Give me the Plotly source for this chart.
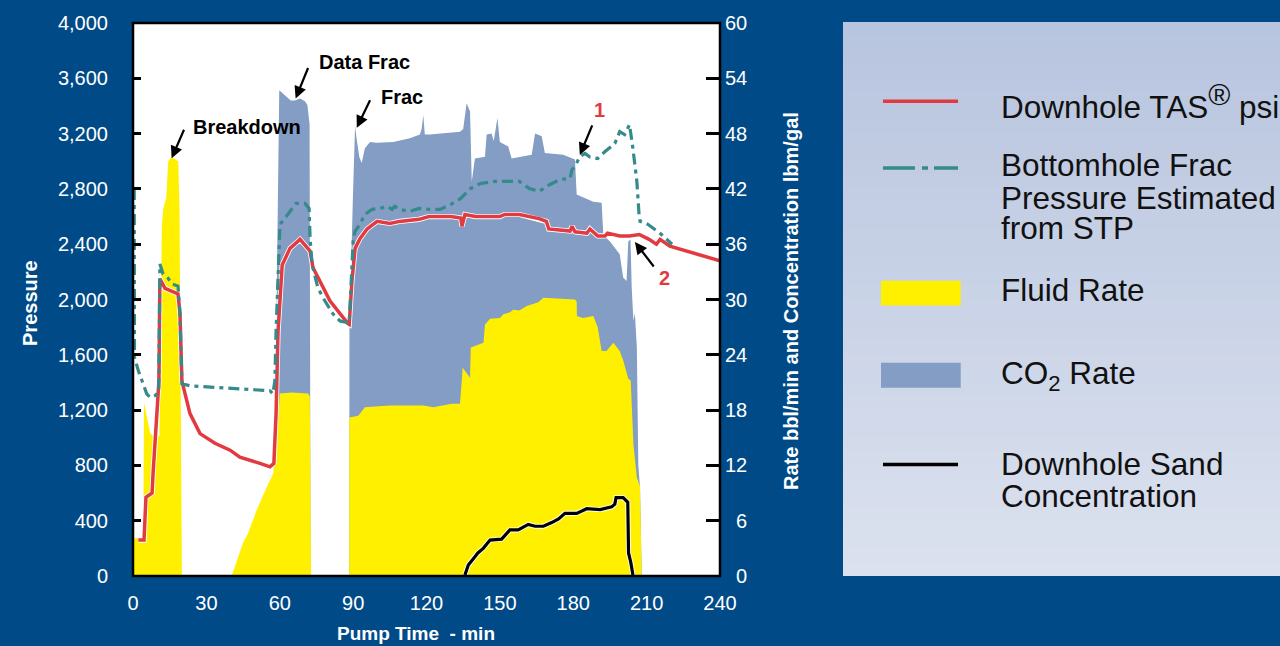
import plotly.graph_objects as go

# ---------------- data ----------------
time_ticks = [0, 30, 60, 90, 120, 150, 180, 210, 240]
pressure_ticks = [0, 400, 800, 1200, 1600, 2000, 2400, 2800, 3200, 3600, 4000]
rate_ticks = [0, 6, 12, 18, 24, 30, 36, 42, 48, 54, 60]

tas_time = [2.2, 4.5, 5.3, 6.1, 7.8, 8.2, 9.0, 10.6, 11.0, 13.1, 18.4, 19.2, 20.0, 23.3, 27.4, 33.5,
            39.7, 43.7, 51.9, 56.0, 57.6, 58.5, 59.3, 61.0, 64.2, 68.3, 72.4, 73.6, 76.5, 80.5, 87.9,
            88.4, 89.5, 90.8, 92.8, 95.7, 99.8, 105, 109, 117, 121, 130, 134, 134.5, 135.7, 140, 150,
            152, 158, 166, 169, 170, 178.7, 179.5, 180.7, 185.6, 186.8, 190, 193, 194, 199, 203, 207,
            211, 214, 215.5, 219.5, 223.6, 229.8, 240]
tas_psi = [260, 260, 570, 580, 600, 740, 940, 1410, 2150, 2080, 2040, 1900, 1410, 1175, 1030, 960,
           910, 860, 815, 790, 815, 1175, 1770, 2250, 2370, 2435, 2350, 2230, 2130, 1990, 1825,
           1820, 2130, 2370, 2440, 2510, 2565, 2550, 2565, 2580, 2600, 2600, 2590, 2530, 2615, 2600, 2600,
           2615, 2615, 2585, 2565, 2510, 2495, 2530, 2490, 2480, 2510, 2460, 2460, 2480, 2460, 2460, 2470,
           2435, 2400, 2435, 2385, 2365, 2335, 2280]

bhfp_time = [0.5, 0.6, 2.2, 4.2, 5.6, 7.0, 9.0, 10.5, 11.0, 12.3, 14.3, 16.0, 18.4, 19.2, 20.0, 23.3,
             56.0, 57.2, 58.0, 58.5, 59.3, 60.1, 62.1, 64.2, 66.6, 70.3, 72.0, 72.4, 73.2, 75.6, 78.5,
             81.8, 84.6, 88.4, 89.2, 90.0, 90.8, 92.8, 94.8, 97.7, 101, 104, 105.9, 107, 109, 113, 117,
             121, 125.5, 130, 134, 138, 142, 148, 154, 158, 162, 166, 170.5, 174.6, 178.7, 179.5, 180.7,
             182.7, 184.8, 186.8, 190, 193, 197, 199, 201, 203, 204.4, 206, 206.9, 207.3, 210.5, 215.5, 220.4]
bhfp_psi = [2800, 1580, 1485, 1390, 1318, 1292, 1304, 1330, 2256, 2184, 2155, 2112, 2097, 1900, 1390, 1376,
            1340, 1318, 1412, 1773, 2133, 2544, 2587, 2638, 2695, 2695, 2659, 2443, 2256, 2083, 1989,
            1895, 1845, 1830, 2100, 2421, 2494, 2544, 2616, 2652, 2659, 2674, 2652, 2674, 2652, 2638, 2659,
            2652, 2652, 2688, 2731, 2803, 2839, 2854, 2854, 2854, 2803, 2782, 2832, 2868, 2876, 2940, 2962,
            3034, 3056, 3030, 3020, 3070, 3128, 3214, 3193, 3265, 3092, 2854, 2616, 2566, 2544, 2479, 2400]

fluid_time = [0, 4.2, 4.5, 7.0, 9.0, 10.8, 11.8, 12.4, 13.6, 14.4, 15.8, 18.5, 19.0, 19.3, 19.8, 20.0,
              40.3, 45, 47, 50.5, 54.6, 57.3, 58.5, 59.3, 60, 65, 71.5, 72.3, 72.8,
              88.4, 88.45, 92.1, 94.8, 105, 118.7, 122.8, 130.3, 133.7, 134.8, 137.8, 138.1, 141.9, 143.3,
              143.9, 146, 150, 151.4, 154, 155.5, 158, 161, 165.7, 167.8, 180.7, 181.4, 181.5, 184, 188.2,
              190, 191.6, 193.6, 196.4, 199, 200.4, 202.5, 203.5, 204.6, 206, 207.3, 208]
fluid_rate = [4.1, 4.1, 18.8, 15.5, 15.0, 15.2, 38, 39.9, 41, 45, 45.5, 45, 40, 30, 5, 0,
              0, 3.6, 4.6, 7.1, 9.6, 11.1, 14.7, 16.5, 19.8, 19.9, 19.8, 19.5, 0,
              0, 17.2, 17.4, 18.3, 18.5, 18.5, 18.3, 18.7, 18.7, 22.6, 21.5, 24.8, 25.2, 25.3,
              27.3, 27.9, 28, 28.4, 28.6, 28.9, 28.8, 29.3, 29.7, 30.2, 30, 29.8, 28.2, 28, 28.2,
              27, 24.4, 24.4, 25.3, 24.4, 23.4, 21.4, 21.2, 14.3, 10.7, 9.7, 0]

co2_time = [58.0, 58.2, 59.2, 59.8, 62, 64.5, 66.2, 68.3, 70.3, 71.3, 72.2, 72.6,
            88.4, 88.5, 90.0, 90.8, 91.4, 92.5, 93.5, 94.8, 96.9, 99.6, 106.4, 113.2, 117.3, 118, 118.7,
            119.3, 121.4, 125.5, 133.7, 135, 136.4, 137.8, 138.5, 139.8, 143.9, 144.6, 146.6, 147.5, 149,
            150, 153.4, 154.8, 163, 164.4, 167.1, 168.4, 175.9, 180.7, 181.4, 188.2, 191.6, 192.3, 195,
            199, 200.4, 201.8, 202.5, 203.4, 203.9, 204.6, 205.2, 206.0, 206.6, 207.3, 208]
co2_rate = [0, 18, 40, 52.7, 52.2, 51.6, 51.6, 51.8, 51.5, 51.1, 49, 0,
            0, 27, 42, 48.8, 47.5, 45.5, 44.8, 46.4, 47.1, 47, 47.1, 47.5, 47.9, 48.5, 50,
            47.9, 47.9, 48, 48.2, 48.5, 51.3, 50.4, 42.8, 45.3, 45.5, 47.9, 48, 47.2, 49.7,
            47.1, 46.6, 45.3, 45.7, 48, 47.7, 45.9, 45.7, 45.2, 41.4, 40.6, 40.5, 37, 36.3,
            34.9, 32.4, 32, 36.3, 36.5, 31.3, 27.7, 28.5, 24.8, 12, 9.6, 0]

sand_time = [135.7, 137.1, 139.8, 141, 143.2, 146, 150.7, 154.1, 157.5, 161.6, 164.4, 167.8, 171.2,
             174, 176.6, 181.4, 185.5, 191, 195.7, 197.0, 197.5, 200.4, 202.3, 202.4, 202.6, 203.5, 204.4]
sand_conc = [0.1, 1.2, 2.1, 2.5, 3.0, 3.9, 4.0, 5.0, 5.0, 5.6, 5.4, 5.4, 5.8,
             6.2, 6.8, 6.8, 7.3, 7.2, 7.5, 7.8, 8.5, 8.5, 8.0, 5.0, 2.5, 1.5, 0.1]

legend_labels = ["Downhole TAS<sup><span style='font-size:30px'>®</span></sup> psi", "Bottomhole Frac",
                 "Pressure Estimated", "from STP",
                 "Fluid Rate", "CO<sub>2</sub> Rate", "Downhole Sand", "Concentration"]

# ---------------- style ----------------
BG = "#004b87"
RED = "#e23a41"
TEAL = "#358a8a"
YELLOW = "#fff000"
BLUE = "#839dc4"
FONT = "Liberation Sans, Arial, sans-serif"

W, H = 1280, 646
L, R, T, B = 133, 720, 21, 576
PW, PH = R - L, B - T


def px(xp):
    return (xp - L) / PW


def py(yp):
    return (B - yp) / PH


fig = go.Figure()

fig.add_trace(go.Scatter(x=co2_time, y=co2_rate, mode="lines", fill="tozeroy", fillcolor=BLUE,
                         line=dict(width=0, color=BLUE), xaxis="x", yaxis="y", hoverinfo="skip"))
fig.add_trace(go.Scatter(x=fluid_time, y=fluid_rate, mode="lines", fill="tozeroy", fillcolor=YELLOW,
                         line=dict(width=0, color=YELLOW), xaxis="x", yaxis="y", hoverinfo="skip"))
fig.add_trace(go.Scatter(x=sand_time, y=sand_conc, mode="lines", line=dict(width=5.0, color="white"),
                         xaxis="x", yaxis="y", hoverinfo="skip"))
fig.add_trace(go.Scatter(x=sand_time, y=sand_conc, mode="lines", line=dict(width=3.2, color="black"),
                         xaxis="x", yaxis="y"))
fig.add_trace(go.Scatter(x=tas_time, y=tas_psi, mode="lines", line=dict(width=5.2, color="white"),
                         xaxis="x", yaxis="y2", hoverinfo="skip"))
fig.add_trace(go.Scatter(x=tas_time, y=tas_psi, mode="lines", line=dict(width=3.5, color=RED),
                         xaxis="x", yaxis="y2"))
fig.add_trace(go.Scatter(x=bhfp_time, y=bhfp_psi, mode="lines",
                         line=dict(width=3.2, color=TEAL, dash="11px,5px,4px,5px"),
                         xaxis="x", yaxis="y2"))

shapes = []
# legend panel gradient
n = 40
top_c = (184, 197, 223)
bot_c = (219, 225, 238)
band = 556 / n
for i in range(n):
    y0 = 20 + band * i
    y1 = min(576, y0 + band + 3)
    f = i / (n - 1)
    c = tuple(int(round(top_c[k] + (bot_c[k] - top_c[k]) * f)) for k in range(3))
    shapes.append(dict(type="rect", xref="paper", yref="paper", x0=px(843), x1=px(1290),
                       y0=py(y1), y1=py(y0), line=dict(width=0), fillcolor="rgb(%d,%d,%d)" % c,
                       layer="below"))
# legend symbols
shapes.append(dict(type="line", xref="paper", yref="paper", x0=px(883), x1=px(958), y0=py(99.6), y1=py(99.6),
                   line=dict(color=RED, width=3.5)))
shapes.append(dict(type="line", xref="paper", yref="paper", x0=px(883), x1=px(958), y0=py(166.4), y1=py(166.4),
                   line=dict(color=TEAL, width=3.5, dash="32px,7px,6px,6px")))
shapes.append(dict(type="rect", xref="paper", yref="paper", x0=px(881), x1=px(960.7), y0=py(304.6), y1=py(279.6),
                   line=dict(width=0), fillcolor=YELLOW))
shapes.append(dict(type="rect", xref="paper", yref="paper", x0=px(881), x1=px(960.7), y0=py(387), y1=py(362),
                   line=dict(width=0), fillcolor=BLUE))
shapes.append(dict(type="line", xref="paper", yref="paper", x0=px(883), x1=px(958), y0=py(464), y1=py(464),
                   line=dict(color="black", width=3.5)))
# plot frame
shapes.append(dict(type="rect", xref="paper", yref="paper", x0=0, x1=1, y0=0, y1=1,
                   line=dict(color="black", width=2.5), layer="above"))

annotations = []
legend_y = [100, 164.0, 196.2, 226.5, 288.5, 375, 464.0, 496.2]
for lab, yy in zip(legend_labels, legend_y):
    annotations.append(dict(xref="paper", yref="paper", x=px(999), y=py(yy), text=lab, showarrow=False,
                            xanchor="left", yanchor="middle", font=dict(family=FONT, size=31.5, color="#111111")))

# axis titles
annotations.append(dict(xref="paper", yref="paper", x=px(416), y=py(634), text="Pump Time\u00a0 - min",
                        showarrow=False, xanchor="center", yanchor="middle",
                        font=dict(family=FONT, size=19, color="white", weight="bold")))
annotations.append(dict(xref="paper", yref="paper", x=px(30), y=py(302), text="Pressure", textangle=-90,
                        showarrow=False, xanchor="center", yanchor="middle",
                        font=dict(family=FONT, size=20, color="white", weight="bold")))
annotations.append(dict(xref="paper", yref="paper", x=px(791), y=py(300),
                        text="Rate bbl/min and Concentration lbm/gal", textangle=-90,
                        showarrow=False, xanchor="center", yanchor="middle",
                        font=dict(family=FONT, size=20, color="white", weight="bold")))

# callouts
bold_black = dict(family=FONT, size=20, color="black", weight="bold")
bold_red = dict(family=FONT, size=20, color=RED, weight="bold")
callout_text = [("Breakdown", 46.6, 3250, bold_black), ("Data Frac", 94.8, 3720, bold_black),
                ("Frac", 109.8, 3468, bold_black), ("1", 190.9, 3371, bold_red), ("2", 217.5, 2157, bold_red)]
for txt, xx, yy, ft in callout_text:
    annotations.append(dict(xref="x", yref="y2", x=xx, y=yy, text=txt, showarrow=False,
                            xanchor="center", yanchor="middle", font=ft))
arrows = [(15.8, 3022, 13, -30), (66.5, 3454, 13, -32), (91.5, 3243, 14, -29),
          (182.7, 3046, 13, -31), (205.2, 2416, 20, 26)]
for xx, yy, axx, ayy in arrows:
    annotations.append(dict(xref="x", yref="y2", x=xx, y=yy, ax=axx, ay=ayy, text="", showarrow=True,
                            arrowhead=2, arrowsize=1.1, arrowwidth=2.2, arrowcolor="black", standoff=0))

rate_text = [("\u2007" + str(v)) if v < 10 else str(v) for v in rate_ticks]

fig.update_layout(
    width=W, height=H,
    margin=dict(l=L, r=W - R, t=T, b=H - B, pad=0),
    paper_bgcolor=BG, plot_bgcolor="white",
    showlegend=False,
    font=dict(family=FONT, color="white"),
    xaxis=dict(range=[0, 240], tickvals=time_ticks, ticks="", showgrid=False, zeroline=False,
               showline=False, tickfont=dict(size=20, color="white"), ticklabelstandoff=13, fixedrange=True),
    yaxis=dict(range=[0, 60], side="right", tickvals=rate_ticks, ticktext=rate_text, ticks="inside",
               ticklen=14, tickwidth=2.5, tickcolor="black", showgrid=False, zeroline=False, showline=False,
               tickfont=dict(size=20, color="white"), ticklabelstandoff=4),
    yaxis2=dict(range=[0, 4000], side="left", overlaying="y", tickvals=pressure_ticks, tickformat=",",
                ticks="inside", ticklen=8, tickwidth=2.5, tickcolor="black", showgrid=False, zeroline=False,
                showline=False, tickfont=dict(size=20, color="white"), ticklabelstandoff=24),
    shapes=shapes,
    annotations=annotations,
)

fig.write_html("out.html", config={"displayModeBar": False},
               post_script="document.body.style.margin='0';document.body.style.padding='0';"
                           "document.body.style.background='" + BG + "';")
